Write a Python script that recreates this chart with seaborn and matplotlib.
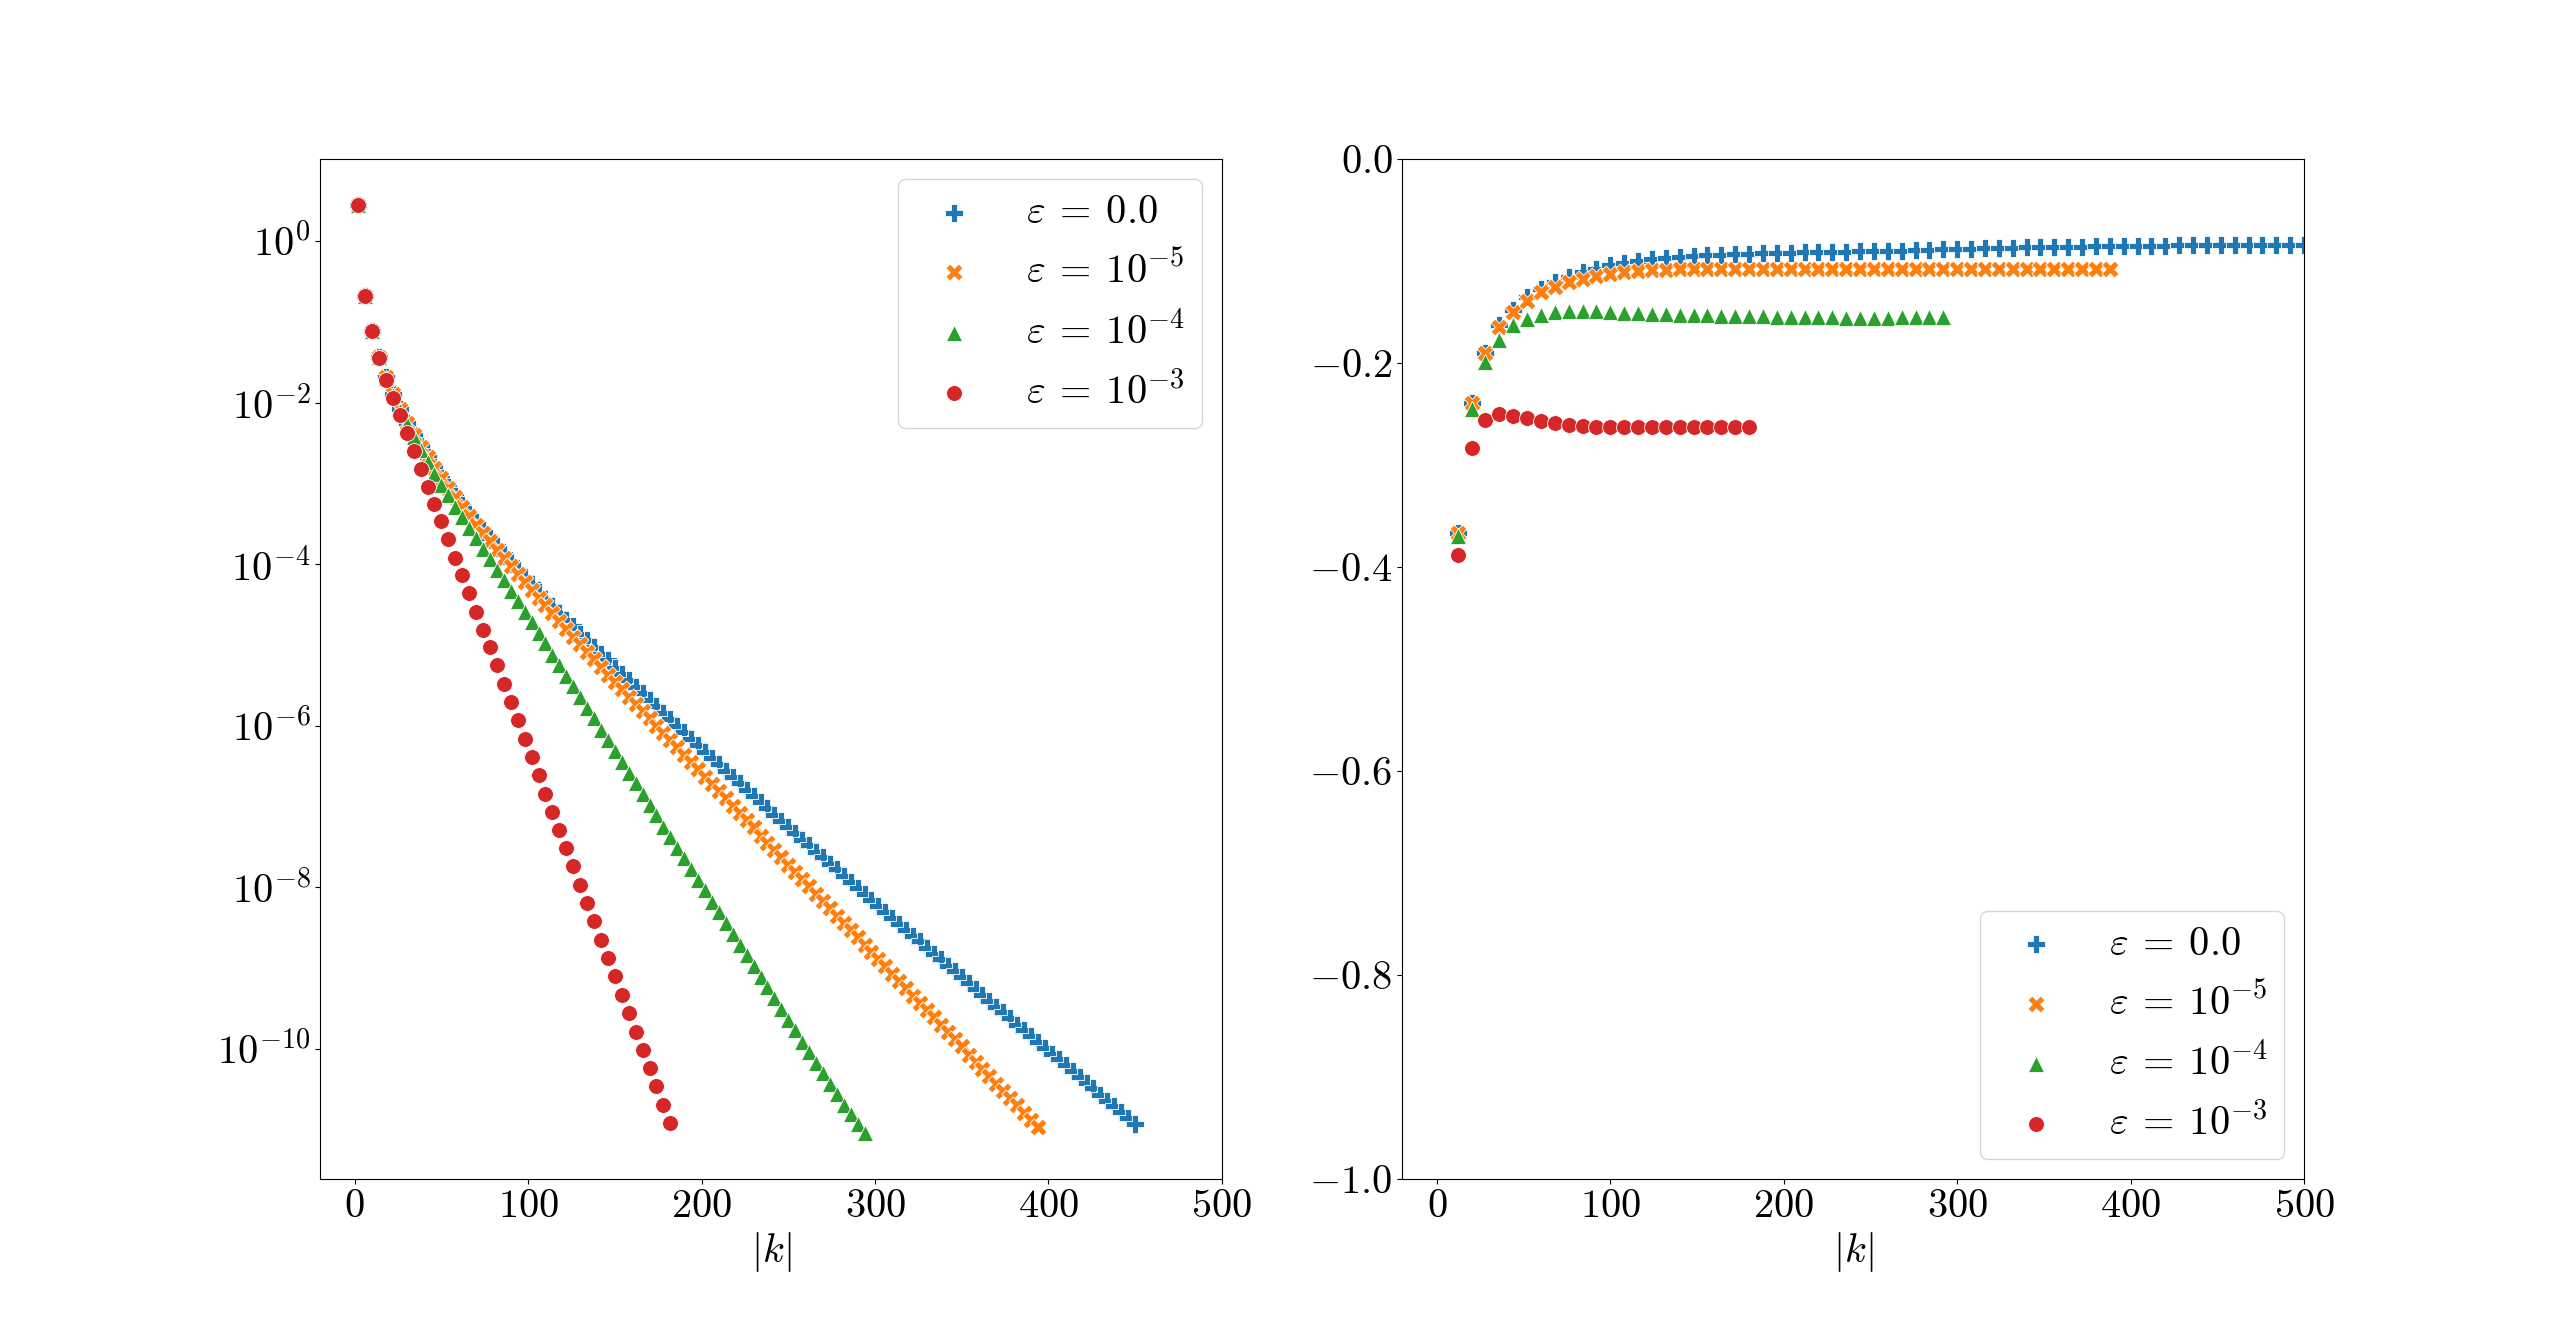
import numpy as np
import matplotlib
matplotlib.use("Agg")
import matplotlib.pyplot as plt
import seaborn as sns

# |k| grids (left: step 4, right: step 8)
k_left_blue = list(range(2, 451, 4))
k_left_orange = list(range(2, 395, 4))
k_left_green = list(range(2, 295, 4))
k_left_red = list(range(2, 183, 4))

k_right_blue = list(range(12, 501, 8))
k_right_orange = list(range(12, 389, 8))
k_right_green = list(range(12, 293, 8))
k_right_red = list(range(12, 181, 8))

labels = [r"$\varepsilon\:=\:0.0$", r"$\varepsilon\:=\:10^{-5}$",
          r"$\varepsilon\:=\:10^{-4}$", r"$\varepsilon\:=\:10^{-3}$"]

# left panel, log10 of the plotted values
blue_left_log = [
    0.44, -0.68, -1.12, -1.44, -1.69, -1.90, -2.08, -2.25, -2.40, -2.54,
    -2.67, -2.80, -2.93, -3.04, -3.16, -3.27, -3.38, -3.48, -3.58, -3.68,
    -3.78, -3.88, -3.97, -4.07, -4.16, -4.25, -4.34, -4.43, -4.52, -4.60,
    -4.69, -4.77, -4.86, -4.94, -5.03, -5.11, -5.19, -5.28, -5.36, -5.44,
    -5.52, -5.60, -5.68, -5.76, -5.84, -5.92, -6.00, -6.08, -6.16, -6.24,
    -6.32, -6.40, -6.48, -6.56, -6.64, -6.71, -6.79, -6.87, -6.95, -7.02,
    -7.10, -7.18, -7.25, -7.33, -7.41, -7.48, -7.56, -7.63, -7.71, -7.78,
    -7.86, -7.93, -8.01, -8.08, -8.16, -8.23, -8.30, -8.38, -8.45, -8.53,
    -8.60, -8.67, -8.75, -8.82, -8.89, -8.97, -9.04, -9.11, -9.19, -9.26,
    -9.33, -9.41, -9.48, -9.55, -9.62, -9.70, -9.77, -9.84, -9.91, -9.99,
    -10.06, -10.13, -10.20, -10.28, -10.35, -10.42, -10.49, -10.57, -10.64, -10.71,
    -10.78, -10.86, -10.93]
orange_left_log = [
    0.44, -0.68, -1.12, -1.44, -1.69, -1.90, -2.08, -2.25, -2.40, -2.55,
    -2.68, -2.81, -2.94, -3.06, -3.17, -3.29, -3.40, -3.51, -3.61, -3.72,
    -3.82, -3.92, -4.02, -4.12, -4.22, -4.32, -4.42, -4.51, -4.61, -4.71,
    -4.80, -4.90, -4.99, -5.09, -5.18, -5.27, -5.37, -5.46, -5.55, -5.64,
    -5.73, -5.82, -5.91, -6.00, -6.09, -6.18, -6.27, -6.36, -6.45, -6.54,
    -6.63, -6.72, -6.81, -6.90, -6.99, -7.08, -7.17, -7.26, -7.36, -7.45,
    -7.54, -7.63, -7.72, -7.81, -7.90, -7.99, -8.08, -8.17, -8.26, -8.35,
    -8.44, -8.53, -8.62, -8.71, -8.80, -8.89, -8.98, -9.07, -9.16, -9.25,
    -9.34, -9.43, -9.52, -9.61, -9.70, -9.79, -9.88, -9.97, -10.07, -10.16,
    -10.25, -10.34, -10.43, -10.52, -10.61, -10.70, -10.79, -10.88, -10.97]
green_left_log = [
    0.44, -0.68, -1.12, -1.44, -1.70, -1.91, -2.10, -2.27, -2.43, -2.59,
    -2.74, -2.88, -3.02, -3.15, -3.29, -3.42, -3.55, -3.68, -3.81, -3.94,
    -4.07, -4.20, -4.33, -4.46, -4.59, -4.72, -4.85, -4.98, -5.12, -5.25,
    -5.38, -5.51, -5.65, -5.78, -5.91, -6.05, -6.18, -6.31, -6.45, -6.58,
    -6.71, -6.85, -6.98, -7.11, -7.25, -7.38, -7.51, -7.64, -7.78, -7.91,
    -8.04, -8.18, -8.31, -8.44, -8.58, -8.71, -8.84, -8.97, -9.11, -9.24,
    -9.37, -9.51, -9.64, -9.77, -9.91, -10.04, -10.17, -10.30, -10.43, -10.56,
    -10.69, -10.81, -10.93, -11.04]
red_left_log = [
    0.44, -0.68, -1.12, -1.45, -1.72, -1.94, -2.16, -2.38, -2.60, -2.82,
    -3.04, -3.26, -3.47, -3.69, -3.92, -4.14, -4.36, -4.59, -4.81, -5.03,
    -5.25, -5.48, -5.71, -5.93, -6.17, -6.39, -6.61, -6.85, -7.07, -7.29,
    -7.52, -7.74, -7.97, -8.19, -8.42, -8.65, -8.87, -9.10, -9.33, -9.56,
    -9.79, -10.02, -10.24, -10.46, -10.69, -10.92]

# right panel values
blue_right = [
    -0.367, -0.239, -0.190, -0.163, -0.148, -0.1355, -0.127, -0.121, -0.116, -0.111,
    -0.108, -0.104, -0.102, -0.100, -0.098, -0.097, -0.096, -0.095, -0.0945, -0.094,
    -0.093, -0.0928, -0.0925, -0.0922, -0.092, -0.0916, -0.0914, -0.091, -0.0907, -0.0904,
    -0.0902, -0.0899, -0.0897, -0.0893, -0.089, -0.0887, -0.0884, -0.0881, -0.0876, -0.087,
    -0.0868, -0.0866, -0.0864, -0.0862, -0.086, -0.0858, -0.0856, -0.0854, -0.0852, -0.085,
    -0.0849, -0.0848, -0.0847, -0.0846, -0.0845, -0.0844, -0.0843, -0.0842, -0.0842, -0.0841,
    -0.0841, -0.084]
orange_right = [
    -0.367, -0.239, -0.190, -0.165, -0.150, -0.139, -0.130, -0.1257, -0.121, -0.1175,
    -0.1142, -0.1126, -0.111, -0.110, -0.109, -0.1085, -0.108, -0.1078, -0.1076, -0.1075,
    -0.1075, -0.1075, -0.1075, -0.1075, -0.1075, -0.1075, -0.1075, -0.1075, -0.1075, -0.1075,
    -0.1075, -0.1075, -0.108, -0.108, -0.108, -0.108, -0.108, -0.108, -0.108, -0.108,
    -0.108, -0.108, -0.108, -0.108, -0.108, -0.108, -0.108, -0.108]
green_right = [
    -0.370, -0.245, -0.1985, -0.177, -0.163, -0.1567, -0.1525, -0.1498, -0.1492, -0.149,
    -0.149, -0.150, -0.1505, -0.151, -0.1515, -0.152, -0.1525, -0.153, -0.153, -0.1535,
    -0.1535, -0.154, -0.154, -0.1545, -0.155, -0.155, -0.155, -0.155, -0.1555, -0.1555,
    -0.1555, -0.1555, -0.155, -0.155, -0.155, -0.155]
red_right = [
    -0.388, -0.283, -0.2557, -0.250, -0.2518, -0.2537, -0.257, -0.259, -0.2606, -0.262,
    -0.2623, -0.2623, -0.2625, -0.2625, -0.2625, -0.2625, -0.2625, -0.2625, -0.2625, -0.2625,
    -0.2625, -0.2625]

markers = ["P", "X", "^", "o"]
colors = ["tab:blue", "tab:orange", "tab:green", "tab:red"]
sizes = [170, 150, 135, 130]

plt.rcParams.update({
    "font.family": "serif",
    "font.serif": ["cmr10"],
    "mathtext.fontset": "cm",
    "axes.formatter.use_mathtext": True,
    "font.size": 29,
})

fig, (ax1, ax2) = plt.subplots(1, 2, figsize=(25.6, 13.25), dpi=100)

left_sets = [(k_left_blue, blue_left_log), (k_left_orange, orange_left_log),
             (k_left_green, green_left_log), (k_left_red, red_left_log)]
for (kk, lv), m, c, sz, lab in zip(left_sets, markers, colors, sizes, labels):
    sns.scatterplot(x=kk, y=10.0 ** np.array(lv), marker=m, color=c, s=sz,
                    linewidth=0.6, label=lab, ax=ax1)
ax1.set_yscale("log")
ax1.set_yticks([1e0, 1e-2, 1e-4, 1e-6, 1e-8, 1e-10])
ax1.set_xlim(-20, 500)
ax1.set_xticks([0, 100, 200, 300, 400, 500])
ax1.set_xlabel(r"$|k|$")
ax1.legend(loc="upper right")

right_sets = [(k_right_blue, blue_right), (k_right_orange, orange_right),
              (k_right_green, green_right), (k_right_red, red_right)]
for (kk, rv), m, c, sz, lab in zip(right_sets, markers, colors, sizes, labels):
    sns.scatterplot(x=kk, y=rv, marker=m, color=c, s=sz, linewidth=0.6,
                    label=lab, ax=ax2)
ax2.set_xlim(-20, 500)
ax2.set_ylim(-1.0, 0.0)
ax2.set_xticks([0, 100, 200, 300, 400, 500])
ax2.set_xlabel(r"$|k|$")
ax2.legend(loc="lower right")

fig.savefig("out.png", dpi=100)
